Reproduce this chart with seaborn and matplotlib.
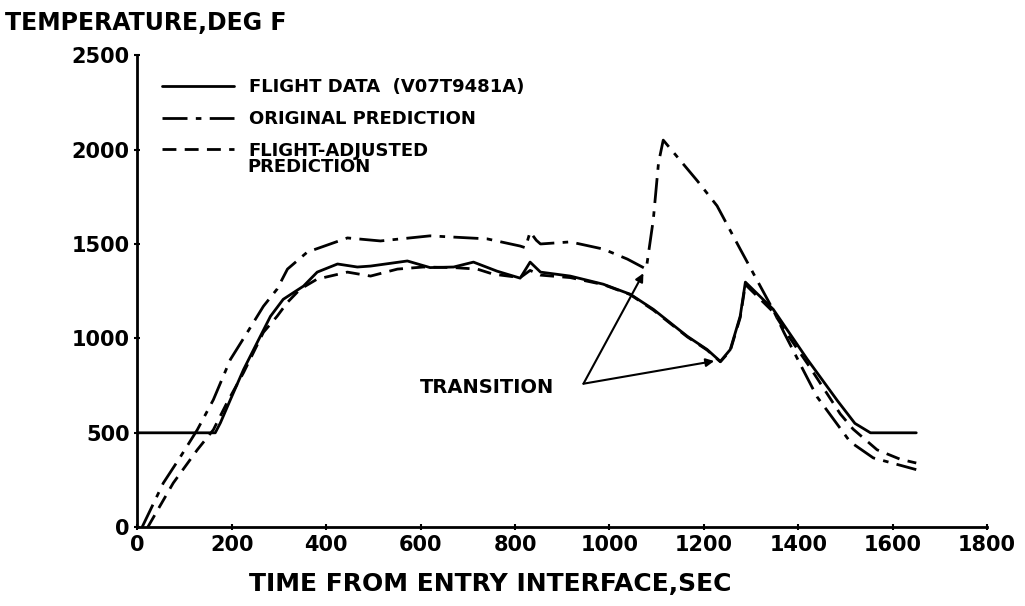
import matplotlib
matplotlib.use("Agg")
import matplotlib.pyplot as plt
import seaborn as sns

# flight data (solid)
flight_t = [0, 165, 176, 197, 225, 254, 282, 309, 352, 381, 424, 466, 494, 572, 620,
            670, 712, 762, 811, 832, 854, 917, 987, 1044, 1093, 1165, 1207, 1235,
            1256, 1277, 1288, 1347, 1419, 1483, 1520, 1553, 1650]
flight_T = [500, 500, 553, 675, 835, 979, 1117, 1207, 1277, 1351, 1394, 1378, 1383, 1410, 1375,
            1378, 1404, 1356, 1319, 1404, 1351, 1330, 1287, 1234, 1154, 1011, 941, 878,
            941, 1117, 1298, 1154, 890, 670, 550, 500, 500]

# original prediction (dash-dot)
orig_t = [10, 55, 91, 127, 161, 197, 233, 267, 296, 318, 360, 445, 515, 620, 741,
          811, 822, 832, 845, 854, 917, 987, 1038, 1078, 1093, 1104, 1114, 1186,
          1228, 1277, 1347, 1370, 1411, 1440, 1510, 1559, 1650]
orig_T = [0, 234, 372, 516, 675, 888, 1032, 1170, 1261, 1367, 1457, 1532, 1516, 1543, 1527,
          1489, 1480, 1564, 1520, 1500, 1511, 1473, 1420, 1367, 1630, 1930, 2050, 1835,
          1702, 1473, 1150, 1030, 830, 690, 452, 367, 305]

# flight-adjusted prediction (dashed)
adj_t = [22, 76, 127, 161, 190, 225, 267, 296, 318, 345, 381, 445, 494, 551, 606,
         670, 720, 754, 811, 832, 854, 917, 987, 1044, 1093, 1165, 1207, 1235,
         1256, 1277, 1288, 1347, 1380, 1425, 1489, 1516, 1567, 1616, 1650]
adj_T = [0, 234, 410, 516, 660, 819, 1032, 1117, 1191, 1261, 1314, 1351, 1330, 1367, 1378,
         1375, 1367, 1340, 1322, 1360, 1335, 1322, 1285, 1232, 1150, 1008, 938, 876,
         935, 1110, 1285, 1140, 1010, 846, 600, 520, 410, 360, 340]

sns.set_style("ticks")
plt.rcParams['font.family'] = ['DejaVu Sans']
plt.rcParams['font.weight'] = 'bold'
plt.rcParams['text.color'] = 'black'
plt.rcParams['axes.labelcolor'] = 'black'
plt.rcParams['axes.edgecolor'] = 'black'
plt.rcParams['xtick.color'] = 'black'
plt.rcParams['ytick.color'] = 'black'

fig = plt.figure(figsize=(10.25, 6.06), dpi=100)
ax = fig.add_axes([0.134, 0.130, 0.829, 0.779])

lw = 2.0
sns.lineplot(x=flight_t, y=flight_T, ax=ax, color='black', lw=lw,
             label='FLIGHT DATA  (V07T9481A)')
sns.lineplot(x=orig_t, y=orig_T, ax=ax, color='black', lw=lw,
             linestyle=(0, (9, 3, 2, 3)), label='ORIGINAL PREDICTION')
sns.lineplot(x=adj_t, y=adj_T, ax=ax, color='black', lw=lw,
             linestyle=(0, (5, 3)), label='FLIGHT-ADJUSTED')

ax.set_xlim(0, 1800)
ax.set_ylim(0, 2500)
ax.set_xticks(range(0, 1801, 200))
ax.set_yticks(range(0, 2501, 500))
ax.tick_params(direction='inout', length=5, width=1.5, labelsize=15, pad=3)
for lab in ax.get_xticklabels() + ax.get_yticklabels():
    lab.set_fontweight('bold')
sns.despine(ax=ax)
for s in ['left', 'bottom']:
    ax.spines[s].set_linewidth(2)

ax.set_xlabel('TIME FROM ENTRY INTERFACE,SEC', fontsize=18, fontweight='bold', labelpad=12)
ax.xaxis.label.set_x(0.415)
ax.set_ylabel('')
fig.text(0.005, 0.962, 'TEMPERATURE,DEG F', fontsize=17, fontweight='bold', va='center', ha='left')

leg = ax.legend(loc='upper left', bbox_to_anchor=(0.01, 0.985), frameon=False,
                handlelength=4.0, handletextpad=0.8, labelspacing=0.75,
                prop={'size': 13, 'weight': 'bold'})
ax.text(233, 2000 - 95, 'PREDICTION', fontsize=13, fontweight='bold', ha='left', va='center')

ax.text(740, 740, 'TRANSITION', fontsize=14, fontweight='bold', ha='center', va='center')
for tx, ty in [(1072, 1345), (1222, 880)]:
    ax.annotate('', xy=(tx, ty), xytext=(945, 760),
                arrowprops=dict(arrowstyle='-|>', color='black', lw=1.5,
                                mutation_scale=12, shrinkA=0, shrinkB=0))

fig.savefig('out.png', dpi=100)
